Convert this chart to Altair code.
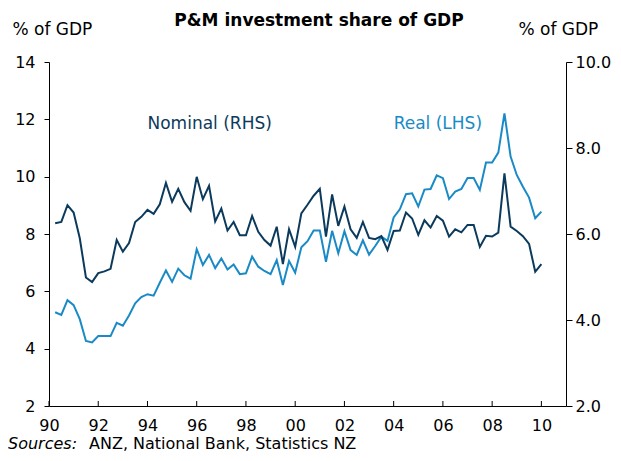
import altair as alt
import pandas as pd

# Quarterly data, Mar-1990 .. Dec-2009
real_lhs = [5.27, 5.18, 5.69, 5.52, 5.03, 4.27, 4.22, 4.44, 4.44, 4.44,
            4.90, 4.80, 5.16, 5.58, 5.80, 5.90, 5.85, 6.30, 6.73, 6.33,
            6.79, 6.56, 6.44, 7.47, 6.92, 7.27, 6.81, 7.15, 6.76, 6.94,
            6.60, 6.63, 7.21, 6.86, 6.71, 6.60, 7.09, 6.22, 7.06, 6.65,
            7.54, 7.75, 8.12, 8.12, 7.03, 8.11, 7.33, 8.10, 7.44, 7.27,
            7.78, 7.28, 7.58, 7.91, 7.76, 8.58, 8.86, 9.39, 9.42, 8.96,
            9.55, 9.57, 10.05, 9.95, 9.22, 9.48, 9.57, 9.95, 9.95, 9.54,
            10.49, 10.49, 10.84, 12.21, 10.70, 10.06, 9.65, 9.27, 8.55, 8.78]

nominal_rhs = [6.25, 6.28, 6.67, 6.50, 5.90, 4.99, 4.88, 5.09, 5.13, 5.19,
               5.86, 5.59, 5.79, 6.28, 6.40, 6.56, 6.47, 6.69, 7.19, 6.75,
               7.05, 6.74, 6.54, 7.33, 6.81, 7.12, 6.29, 6.59, 6.08, 6.28,
               5.97, 5.97, 6.42, 6.05, 5.86, 5.73, 6.17, 5.30, 6.11, 5.70,
               6.48, 6.68, 6.89, 7.05, 5.94, 6.92, 6.19, 6.64, 6.11, 5.91,
               6.28, 5.91, 5.88, 5.95, 5.63, 6.07, 6.08, 6.50, 6.36, 5.98,
               6.32, 6.15, 6.42, 6.31, 5.94, 6.11, 6.04, 6.21, 6.21, 5.70,
               5.96, 5.94, 6.03, 7.41, 6.17, 6.07, 5.95, 5.77, 5.12, 5.30]

start_year = 1990.25
quarters = [start_year + 0.25 * i for i in range(len(real_lhs))]

x_ticks = [1990, 1992, 1994, 1996, 1998, 2000, 2002, 2004, 2006, 2008, 2010]
left_ticks = [2, 4, 6, 8, 10, 12, 14]
right_ticks = [2, 4, 6, 8, 10]

label_text = ["Nominal (RHS)", "Real (LHS)"]
label_t = [1994.0, 2004.0]
label_y = [11.84, 11.84]
label_series = ["nominal", "real"]

W, H = 517, 344
FONT = "DejaVu Sans"
NAVY = "#0b3a5c"
BLUE = "#1a8ac6"

df = pd.DataFrame({"t": quarters, "real": real_lhs, "nominal": nominal_rhs})
labels_df = pd.DataFrame({"t": label_t, "y": label_y, "label": label_text, "series": label_series})
ticks_df = pd.DataFrame({"t": x_ticks})

x_scale = alt.Scale(domain=[1990, 2011], nice=False, zero=False)
x_enc = alt.X(
    "t:Q", scale=x_scale,
    axis=alt.Axis(values=x_ticks, title=None, grid=False, ticks=False,
                  labelExpr="(datum.value % 100 < 10 ? '0' : '') + (datum.value % 100)",
                  labelPadding=11, labelFontSize=16, labelFont=FONT, labelColor="black",
                  labelFlush=False, domainColor="black", domainWidth=1),
)

real_line = alt.Chart(df).mark_line(color=BLUE, strokeWidth=2).encode(
    x=x_enc,
    y=alt.Y("real:Q", scale=alt.Scale(domain=[2, 14], nice=False, zero=False),
            axis=alt.Axis(values=left_ticks, orient="left", grid=False,
                          title="% of GDP", titleAngle=0, titleAlign="left",
                          titleBaseline="alphabetic", titleX=-37, titleY=-28,
                          titleFontWeight="normal", titleFontSize=17, titleFont=FONT,
                          titleColor="black", tickSize=5, tickColor="black",
                          labelPadding=9, labelFontSize=16, labelFont=FONT,
                          labelColor="black", domainColor="black", domainWidth=1)),
)

nominal_line = alt.Chart(df).mark_line(color=NAVY, strokeWidth=2).encode(
    x=alt.X("t:Q", scale=x_scale),
    y=alt.Y("nominal:Q", scale=alt.Scale(domain=[2, 10], nice=False, zero=False),
            axis=alt.Axis(values=right_ticks, orient="right", grid=False, format=".1f",
                          title="% of GDP", titleAngle=0, titleAlign="left",
                          titleBaseline="alphabetic", titleX=-48, titleY=-28,
                          titleFontWeight="normal", titleFontSize=17, titleFont=FONT,
                          titleColor="black", tickSize=6, tickColor="black",
                          labelPadding=3, labelFontSize=16, labelFont=FONT,
                          labelColor="black", domainColor="black", domainWidth=1)),
)

labels = alt.Chart(labels_df).mark_text(align="left", baseline="middle", font=FONT, fontSize=17).encode(
    x=alt.X("t:Q", scale=x_scale),
    y=alt.Y("y:Q", scale=alt.Scale(domain=[2, 14], nice=False, zero=False), axis=None),
    text="label:N",
    color=alt.Color("series:N", scale=alt.Scale(domain=["nominal", "real"], range=[NAVY, BLUE]), legend=None),
)

x_tick_marks = alt.Chart(ticks_df).mark_rule(color="black", strokeWidth=1).encode(
    x=alt.X("t:Q", scale=x_scale),
    y=alt.value(H - 5),
    y2=alt.value(H),
)

title = alt.Chart(pd.DataFrame({"s": ["P&M investment share of GDP"]})).mark_text(
    align="center", baseline="alphabetic", font=FONT, fontSize=17, fontWeight="bold", color="black"
).encode(x=alt.value(270), y=alt.value(-36), text="s:N")

src1 = alt.Chart(pd.DataFrame({"s": ["Sources:"]})).mark_text(
    align="left", baseline="middle", font=FONT, fontSize=16, fontStyle="italic", color="black"
).encode(x=alt.value(-41), y=alt.value(382), text="s:N")

src2 = alt.Chart(pd.DataFrame({"s": ["ANZ,  National Bank, Statistics NZ"]})).mark_text(
    align="left", baseline="middle", font=FONT, fontSize=16, color="black"
).encode(x=alt.value(40), y=alt.value(382), text="s:N")

chart = alt.layer(
    real_line, nominal_line, labels, x_tick_marks, title, src1, src2
).resolve_scale(y="independent", color="independent").properties(
    width=W, height=H,
    autosize=alt.AutoSizeParams(type="none"),
    padding={"left": 41, "top": 54, "right": 47, "bottom": 47},
).configure_view(stroke=None)

chart.save("out.html", embed_options={"renderer": "svg", "actions": False})
